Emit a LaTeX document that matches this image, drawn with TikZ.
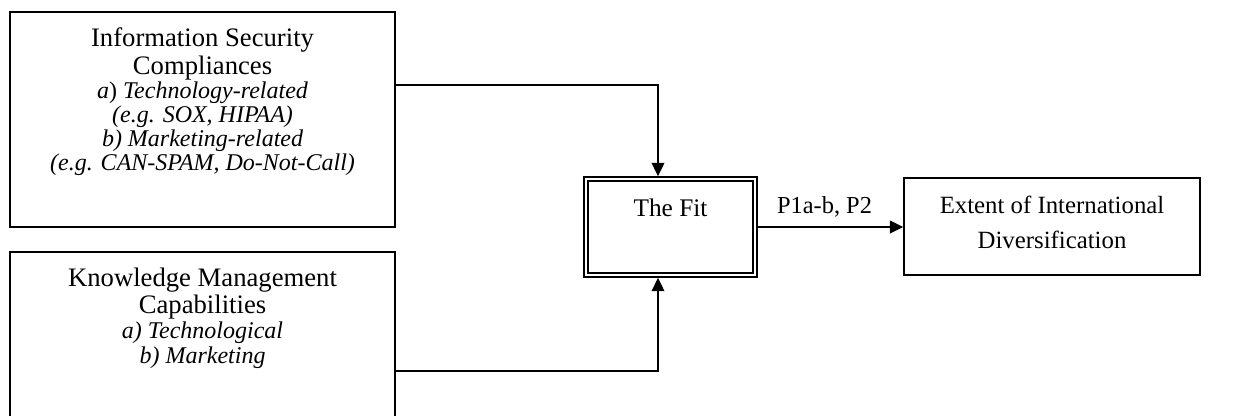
\documentclass[tikz,border=0pt]{standalone}
\usepackage{fontspec}
\setmainfont{Liberation Serif}
\usetikzlibrary{arrows.meta}
\usetikzlibrary{calc}
\newcommand{\textocaixa}[4]{\parbox[c][#2][t]{#1}{\centering\rule{0pt}{#3}\ignorespaces#4}}
\newcommand{\itens}{\fontsize{18pt}{18pt}\selectfont\itshape}

\begin{document}
\begin{tikzpicture}[x=1pt,y=1pt,
                    caixa/.style={draw,line width=1.1pt,inner sep=0pt},
                    ajuste/.style={draw,double,line width=1.2pt,double distance=1.8pt,
                                   inner sep=0pt,outer sep=2.1pt},
                    seta/.style={line width=1.1pt,-{Triangle[length=10pt,width=9.5pt]}},
                    font=\fontsize{20pt}{18pt}\selectfont]

		% Área da figura
		\useasboundingbox (0,0) rectangle (933,-311.25);

		% Caixa das conformidades
		\node [caixa] (seguranca) at (151.9,-89.6) {%
			\textocaixa{288.75pt}{161.25pt}{26pt}{%
				Information Security\\[1.5pt] Compliances\\
				{\itens\upshape\textit{a}) \textit{Technology-related}}\\
				{\itens (e.g. SOX, HIPAA)}\\
				{\itens b) Marketing-related}\\
				{\itens (e.g. CAN-SPAM, Do-Not-Call)}}%
		};

		% Caixa das capacidades
		\node [caixa] (conhecimento) at (151.9,-252) {%
			\fontsize{20pt}{18.75pt}\selectfont
			\textocaixa{288.75pt}{126pt}{26pt}{%
				Knowledge Management\\[1.5pt] Capabilities\\
				{\itens a) Technological}\\
				{\itens b) Marketing}}%
		};

		% O ajuste (borda dupla)
		\node [ajuste, font=\fontsize{19pt}{20pt}\selectfont] (ajuste) at (502.9,-170.25) {%
			\textocaixa{126.75pt}{72pt}{28pt}{The Fit}%
		};

		% Caixa do resultado
		\node [caixa, font=\fontsize{18.6pt}{26.25pt}\selectfont] (extensao) at (789,-169.9) {%
			\textocaixa{222pt}{72.75pt}{26.25pt}{%
				Extent of International\\ Diversification}%
		};

		% Flechas de entrada
		\draw [seta] ([yshift=25.9pt]seguranca.east) -| ([xshift=-9.4pt]ajuste.north);
		\draw [seta] ([yshift=-26.25pt]conhecimento.east) -| ([xshift=-9.4pt]ajuste.south);

		% Flecha de saída e rótulo
		\draw [seta] (ajuste.east) -- (ajuste.east -| extensao.west)
			node [midway, anchor=base, yshift=10.5pt, xshift=-4.5pt,
			      font=\fontsize{18.3pt}{20pt}\selectfont] {P1a-b, P2};

\end{tikzpicture}
\end{document}
